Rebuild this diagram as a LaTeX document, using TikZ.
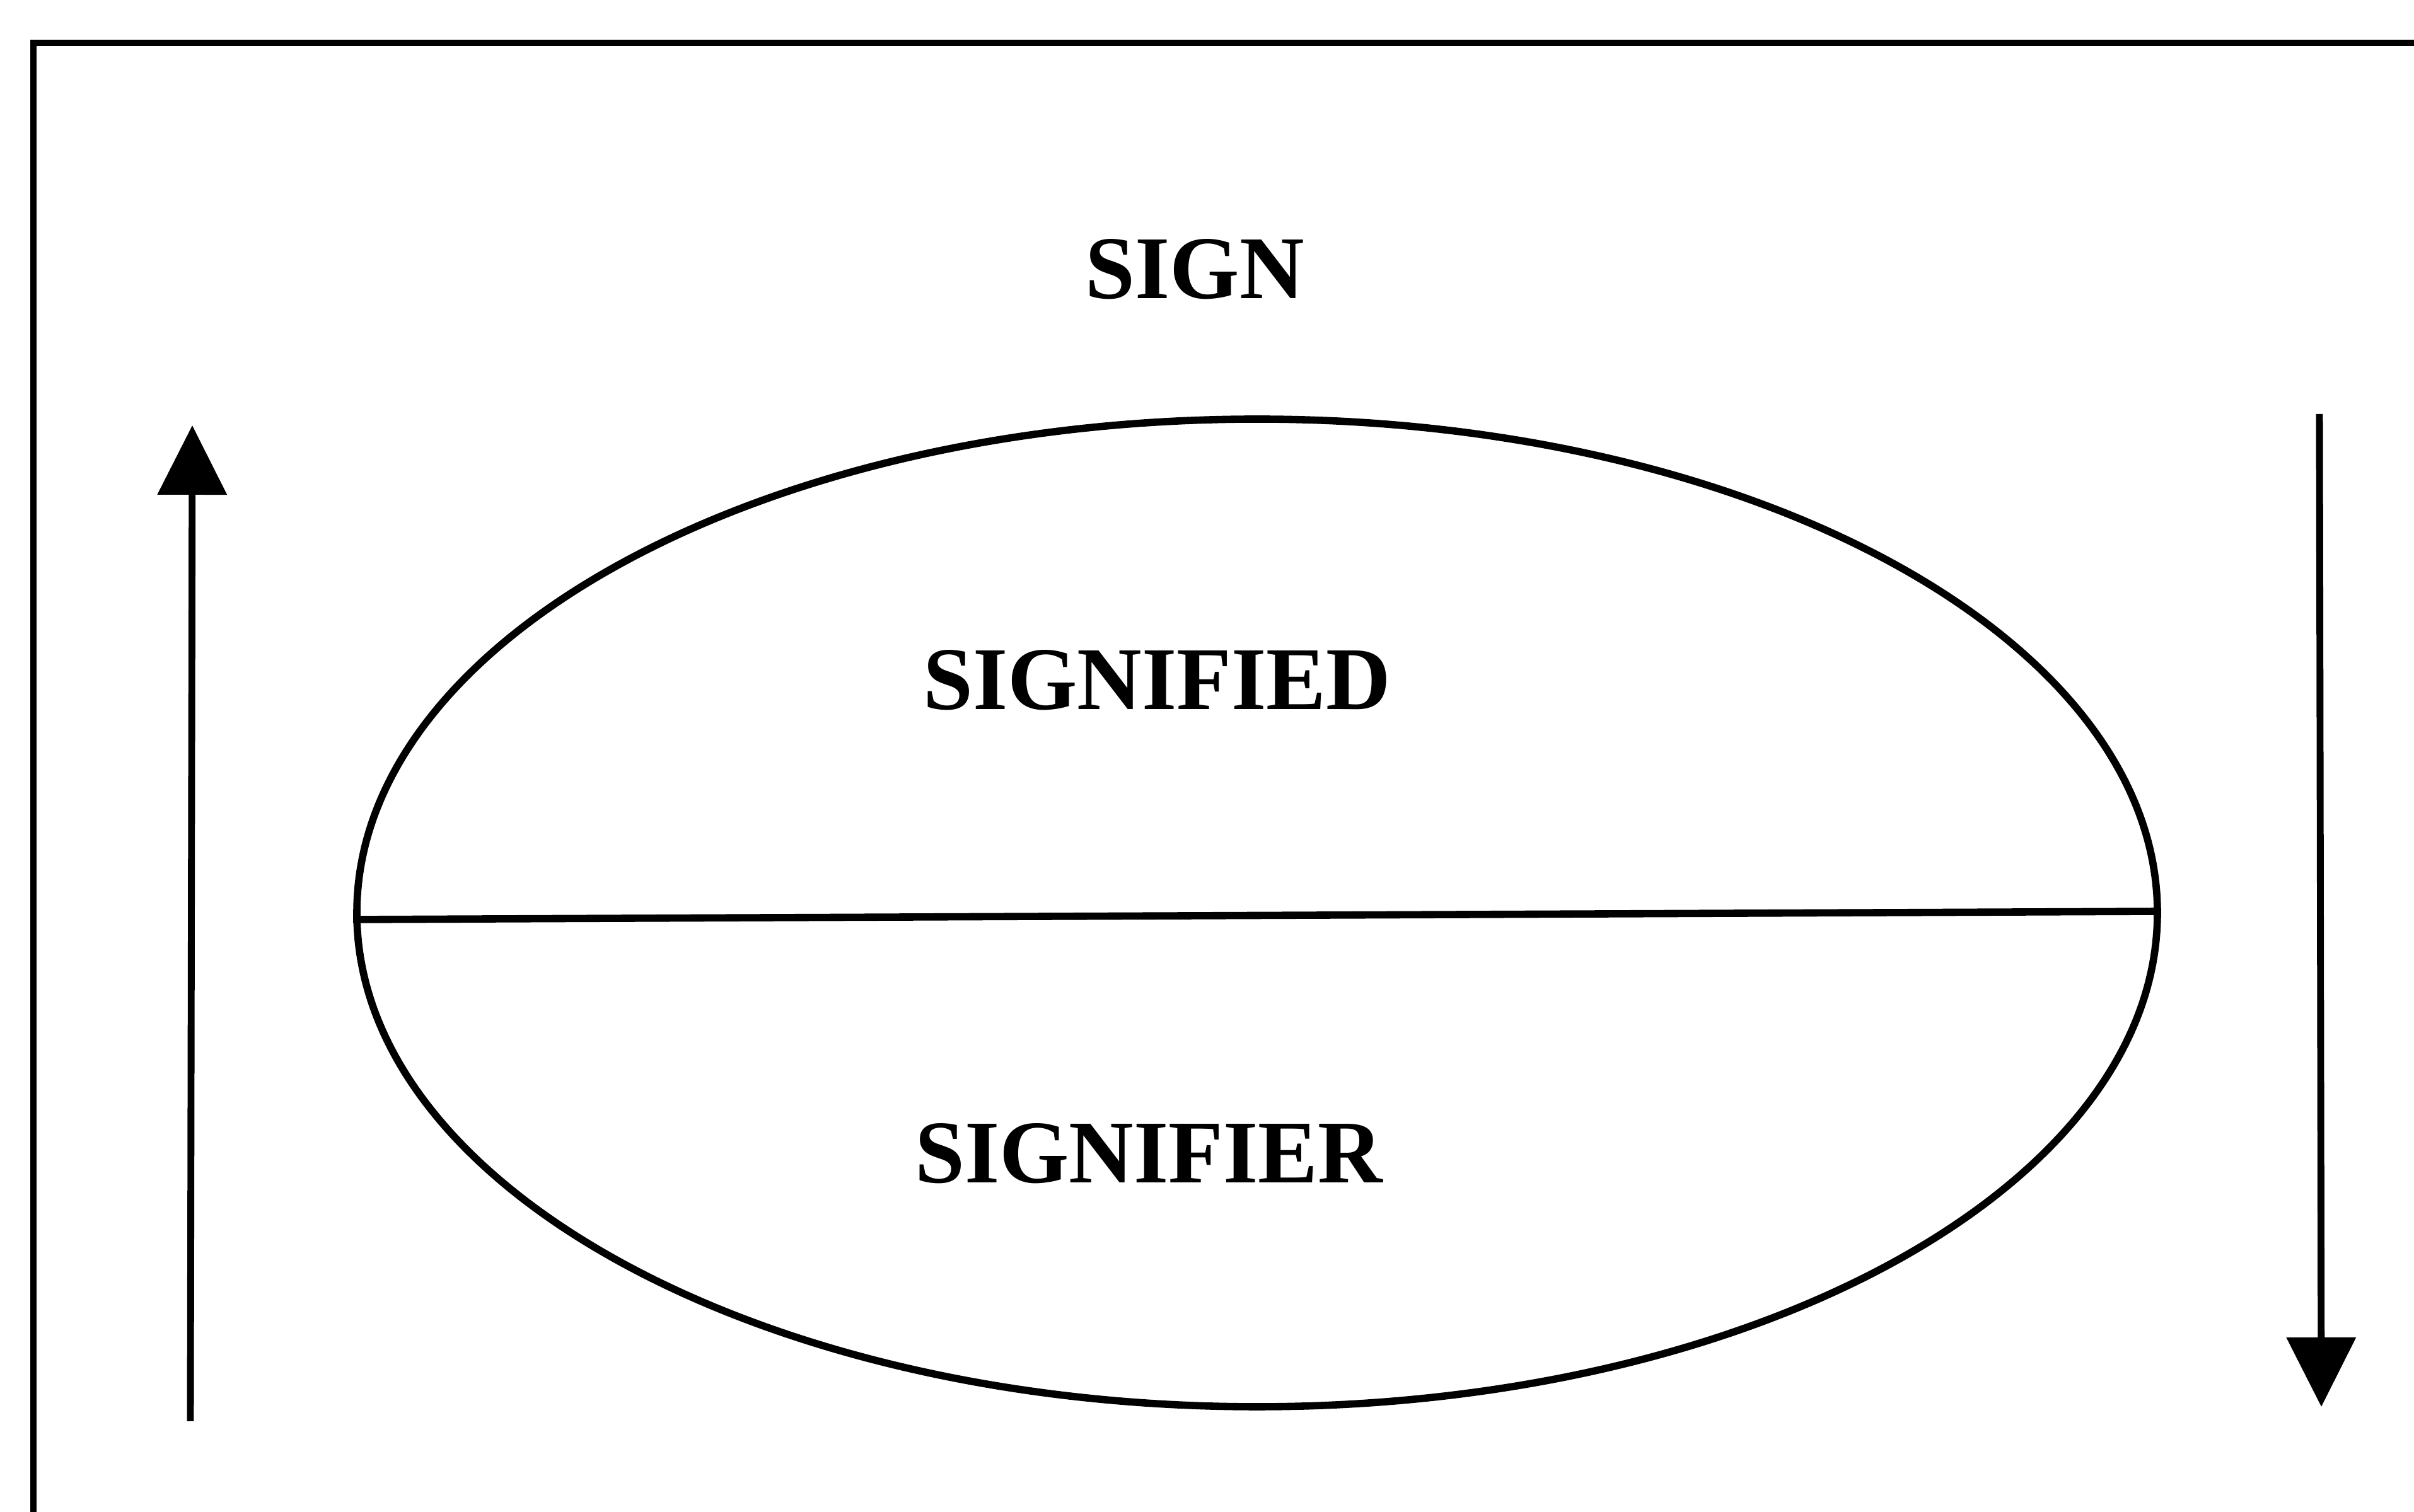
\documentclass[tikz,border=0pt]{standalone}
\usepackage{fontspec}
\setmainfont{Liberation Serif}
\usepackage{tikz}
\usetikzlibrary{arrows.meta,shapes.geometric}
\definecolor{figink}{HTML}{000000}

\begin{document}
\begin{tikzpicture}[
    every node/.style={font=\fontsize{40.4pt}{48pt}\selectfont\bfseries, text=figink},
    frameline/.style={figink, line width=2.85pt},
    outline/.style={figink, line width=3.3pt},
    flow/.style={-{Triangle[length=1.1cm, width=1.08cm]}, figink, line width=3.1pt},
  ]
  \clip (0,0) rectangle (38.29,23.99);

  % open frame, cut at the right and bottom
  \draw[frameline] (0.53,-0.5) |- (38.8,23.31);

  \node (signlabel) at (18.95,19.72) {SIGN};

  \node[ellipse, draw, outline, minimum width=28.56cm, minimum height=15.67cm,
        inner sep=0pt] (sign) at (19.94,9.505) {};
  \draw[outline] ([yshift=-0.105cm]sign.west) -- ([yshift=0.025cm]sign.east);

  \node (signified) at (18.35,13.20) {SIGNIFIED};
  \node (signifier) at (18.22,5.69) {SIGNIFIER};

  % side arrows
  \coordinate (upfoot) at (3.02,1.44);
  \coordinate (uptip) at (3.05,17.24);
  \coordinate (downtop) at (36.79,17.42);
  \coordinate (downtip) at (36.82,1.67);
  \draw[flow] (upfoot) -- (uptip);
  \draw[flow] (downtop) -- (downtip);
\end{tikzpicture}
\end{document}
